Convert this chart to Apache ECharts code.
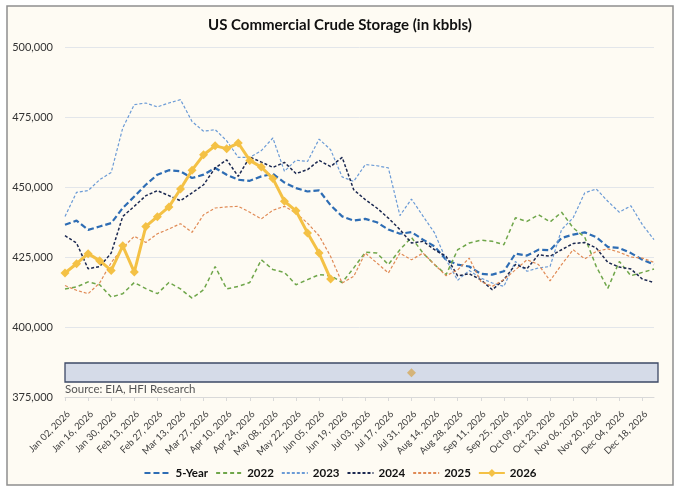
<!DOCTYPE html>
<html>
<head>
<meta charset="utf-8">
<title>US Commercial Crude Storage</title>
<script src="https://cdn.jsdelivr.net/npm/echarts@6.0.0/dist/echarts.min.js"></script>
<style>
  html, body { margin: 0; padding: 0; background: #ffffff; }
  #main { width: 680px; height: 494px; }
</style>
</head>
<body>
<div id="main"></div>
<script>
// weekly dates, one point per week
var weeks = ["Jan 02, 2026", "Jan 09, 2026", "Jan 16, 2026", "Jan 23, 2026", "Jan 30, 2026", "Feb 06, 2026",
    "Feb 13, 2026", "Feb 20, 2026", "Feb 27, 2026", "Mar 06, 2026", "Mar 13, 2026", "Mar 20, 2026",
    "Mar 27, 2026", "Apr 03, 2026", "Apr 10, 2026", "Apr 17, 2026", "Apr 24, 2026", "May 01, 2026",
    "May 08, 2026", "May 15, 2026", "May 22, 2026", "May 29, 2026", "Jun 05, 2026", "Jun 12, 2026",
    "Jun 19, 2026", "Jun 26, 2026", "Jul 03, 2026", "Jul 10, 2026", "Jul 17, 2026", "Jul 24, 2026",
    "Jul 31, 2026", "Aug 07, 2026", "Aug 14, 2026", "Aug 21, 2026", "Aug 28, 2026", "Sep 04, 2026",
    "Sep 11, 2026", "Sep 18, 2026", "Sep 25, 2026", "Oct 02, 2026", "Oct 09, 2026", "Oct 16, 2026",
    "Oct 23, 2026", "Oct 30, 2026", "Nov 06, 2026", "Nov 13, 2026", "Nov 20, 2026", "Nov 27, 2026",
    "Dec 04, 2026", "Dec 11, 2026", "Dec 18, 2026", "Dec 25, 2026"];

// kbbls
var fiveYear = [436500, 438000, 434700, 435900, 437100, 442500, 446600, 450800, 454400, 456000,
    455600, 453200, 454400, 456800, 454400, 452600, 452200, 453800, 454700, 451600,
    449600, 448400, 448800, 443500, 439500, 438000, 438600, 437400, 434800, 433300,
    433900, 431200, 428800, 424000, 422300, 421600, 419000, 418700, 419900, 426200,
    425500, 427600, 427400, 431800, 433000, 433800, 432100, 428600, 428200, 426400,
    424000, 422300];
var y2022 = [413600, 414300, 416100, 415100, 410700, 411900, 415900, 413700, 411900, 415900,
    413600, 410300, 413300, 421600, 413600, 414500, 415900, 424000, 420500, 419500,
    415100, 416900, 418700, 418300, 415900, 421100, 426700, 426400, 422300, 427600,
    432000, 426400, 422300, 418700, 427600, 430000, 431000, 430600, 429400, 439000,
    437700, 440100, 437500, 441000, 435400, 432100, 421600, 413800, 423400, 418300,
    419500, 420700];
var y2023 = [439500, 448100, 448700, 452600, 455200, 471100, 479400, 480000, 478600, 480000,
    481200, 473400, 469900, 470500, 466500, 460600, 460600, 463000, 467500, 455600,
    459600, 459100, 467100, 463300, 453600, 452000, 458000, 457600, 456800, 439800,
    445700, 439600, 433600, 424000, 416700, 420200, 417500, 415700, 414500, 423400,
    419900, 421100, 421600, 434800, 439000, 447900, 449300, 444900, 441000, 443300,
    436500, 431200];
var y2024 = [432600, 430000, 420800, 421600, 426400, 439500, 443100, 446900, 448700, 446900,
    445100, 447900, 450800, 456800, 459700, 453800, 460700, 458900, 457000, 458800,
    454800, 456200, 459500, 457300, 460600, 449000, 445500, 442500, 438900, 434800,
    430000, 430600, 427600, 425200, 418300, 419000, 416900, 413300, 416900, 422300,
    420800, 425800, 425300, 427600, 429800, 430200, 428200, 423100, 421400, 420700,
    417100, 415900];
var y2025 = [414800, 413100, 411900, 415700, 423000, 428300, 432400, 430200, 433300, 435000,
    436900, 433800, 440100, 442500, 442900, 443100, 441000, 438600, 441700, 443100,
    440700, 437100, 432600, 425200, 415700, 418100, 426400, 422900, 419300, 426400,
    424000, 426400, 422300, 418300, 420400, 424600, 416300, 414500, 416900, 420400,
    424000, 422300, 416500, 422300, 427600, 424300, 427000, 427900, 426700, 425000,
    424600, 423100];
var y2026 = [419300, 422600, 426200, 423700, 420200, 429000, 419600, 435900, 439400, 442900,
    449300, 456000, 461500, 464700, 463700, 465700, 459500, 457100, 453000, 444900,
    441500, 433600, 426400, 417100];
// stray 2026 marker that sits in the box under the lines
var strayMarker = [["Jul 31, 2026", 383700]];

var yTicks = { min: 375000, max: 500000, interval: 25000 };

var baseFont = "Lato, 'Open Sans', sans-serif";

function dashed(name, data, color, width, dash) {
    return {
        name: name,
        type: 'line',
        data: data,
        symbol: 'none',
        smooth: false,
        lineStyle: { color: color, width: width, type: dash },
        itemStyle: { color: color },
        emphasis: { disabled: true },
        z: 2
    };
}

// legend entries for the dashed series show only the line, no dot
var hideDot = { opacity: 0 };

var myChart = echarts.init(document.getElementById('main'), null, { renderer: 'canvas' });

var option = {
    backgroundColor: '#ffffff',
    animation: false,
    textStyle: { fontFamily: baseFont },
    title: {
        text: 'US Commercial Crude Storage (in kbbls)',
        left: 'center',
        top: 13,
        textStyle: { fontFamily: baseFont, fontSize: 15, fontWeight: 'bold', color: '#111111' }
    },
    graphic: [
        {
            type: 'rect',
            z: -10,
            shape: { x: 7, y: 6, width: 666, height: 479 },
            style: { fill: '#fefbf3', stroke: '#8f8f8f', lineWidth: 1.5 }
        },
        {
            type: 'rect',
            z: 1,
            shape: { x: 65, y: 363, width: 593, height: 19 },
            style: { fill: '#d5dbe8', stroke: '#3d4966', lineWidth: 1.3 }
        },
        {
            type: 'text',
            z: 1,
            left: 65,
            top: 383,
            style: { text: 'Source: EIA, HFI Research', fill: '#555555', font: '11.5px ' + baseFont }
        }
    ],
    legend: {
        left: 'center',
        top: 462,
        itemWidth: 26,
        itemHeight: 10,
        itemGap: 7,
        textStyle: { fontFamily: baseFont, fontSize: 11.5, fontWeight: 'bold', color: '#111111' },
        data: [
            { name: '5-Year', itemStyle: hideDot },
            { name: '2022', itemStyle: hideDot },
            { name: '2023', itemStyle: hideDot },
            { name: '2024', itemStyle: hideDot },
            { name: '2025', itemStyle: hideDot },
            { name: '2026' }
        ]
    },
    grid: { left: 65, right: 26, top: 47, bottom: 97, containLabel: false },
    xAxis: {
        type: 'category',
        data: weeks,
        boundaryGap: false,
        axisLine: { show: true, lineStyle: { color: '#d9d9d9' } },
        axisTick: { show: true, interval: 1, length: 4, lineStyle: { color: '#d9d9d9' } },
        axisLabel: {
            interval: 1, rotate: 45, fontSize: 9.5, color: '#404040', margin: 12,
            verticalAlign: 'top', fontFamily: baseFont
        },
        splitLine: { show: false }
    },
    yAxis: {
        type: 'value',
        min: yTicks.min,
        max: yTicks.max,
        interval: yTicks.interval,
        axisLine: { show: false },
        axisTick: { show: false },
        axisLabel: {
            color: '#333333',
            fontSize: 11,
            margin: 12,
            fontFamily: baseFont,
            formatter: function (v) { return v.toString().replace(/\B(?=(\d{3})+(?!\d))/g, ','); }
        },
        splitLine: { lineStyle: { color: '#e3e6ea', width: 1 } }
    },
    series: [
        dashed('5-Year', fiveYear, '#2e6db4', 2.2, [6, 3]),
        dashed('2022', y2022, '#6fa64a', 1.5, [4, 3]),
        dashed('2023', y2023, '#6b9bd6', 1.2, [3, 2]),
        dashed('2024', y2024, '#1b2850', 1.5, [3, 2]),
        dashed('2025', y2025, '#e08a55', 1.2, [3, 2]),
        {
            name: '2026',
            type: 'line',
            data: y2026,
            symbol: 'diamond',
            symbolSize: 9,
            showAllSymbol: true,
            lineStyle: { color: '#f4c145', width: 3 },
            itemStyle: { color: '#f4c145' },
            emphasis: { disabled: true },
            z: 5
        },
        {
            name: 'marker',
            type: 'scatter',
            data: strayMarker,
            symbol: 'diamond',
            symbolSize: 9,
            itemStyle: { color: '#d5aa5c' },
            silent: true,
            z: 6
        }
    ]
};

myChart.setOption(option);
</script>
</body>
</html>
